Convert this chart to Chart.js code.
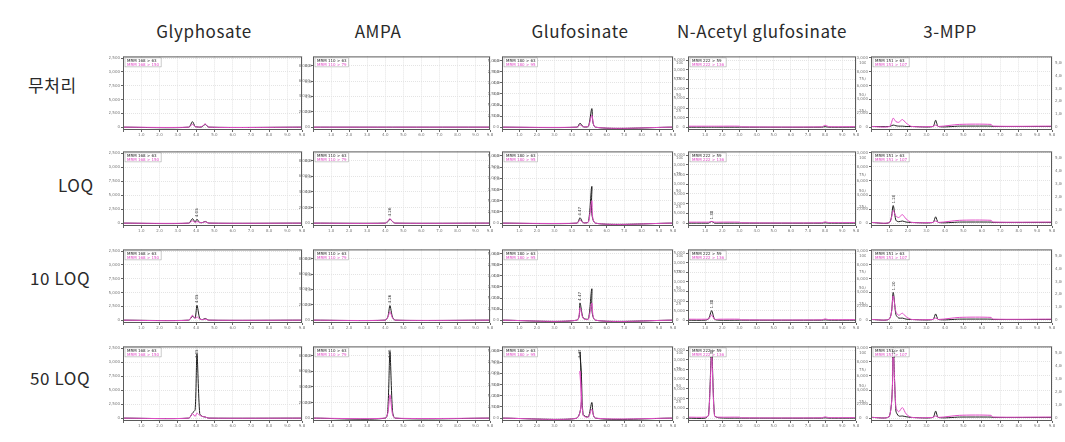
<!DOCTYPE html>
<html><head><meta charset="utf-8">
<script src="https://cdn.jsdelivr.net/npm/chart.js@4.4.1/dist/chart.umd.min.js"></script>
<style>
html,body{margin:0;padding:0;background:#fff;width:1065px;height:442px;overflow:hidden;position:relative;font-family:"Noto Sans CJK KR","Noto Sans",sans-serif;}
.t{position:absolute;font-size:17px;letter-spacing:0.6px;color:#2a2a2a;white-space:nowrap;transform:translate(-50%,-50%);}
.r{position:absolute;font-size:17px;letter-spacing:0.6px;color:#2a2a2a;white-space:nowrap;transform:translate(0,-50%);}
canvas{position:absolute;}
</style></head><body>
<script>
// ---- labels ----
const compounds = ["Glyphosate","AMPA","Glufosinate","N-Acetyl glufosinate","3-MPP"];
const levels = ["무처리","LOQ","10 LOQ","50 LOQ"];
const quantIons = ["MRM 168 > 63","MRM 110 > 63","MRM 180 > 63","MRM 222 > 59","MRM 151 > 63"];
const qualIons  = ["MRM 168 > 150","MRM 110 > 79","MRM 180 > 95","MRM 222 > 136","MRM 151 > 107"];

// ---- retention time grids (min) ----
const glyTimes  = [0, 3.6, 3.8, 3.95, 4.05, 4.2, 4.35, 4.5, 4.7, 9.8];
const ampaTimes = [0, 4.0, 4.15, 4.26, 4.4, 4.55, 9.8];
const glufTimes = [0, 4.3, 4.47, 4.65, 4.95, 5.15, 5.35, 9.8];
const nagTimes  = [0, 1.0, 1.2, 1.38, 1.55, 1.8, 3.0, 3.1, 7.8, 8.0, 8.2, 9.8];
const mppTimes  = [0, 1.0, 1.2, 1.35, 1.5, 1.7, 1.9, 2.2, 3.35, 3.5, 3.65, 4.8, 6.5, 6.6, 9.8];

// ---- intensities: black (quantifier) / magenta (qualifier) ----
const glyBlankQ = [0,0,1000,100,50,0,100,500,0,0];
const glyBlankC = [0,0,500,100,50,0,200,600,0,0];
const glyLoqQ   = [0,0,800,200,700,100,100,300,0,0];
const glyLoqC   = [0,0,400,100,300,100,100,250,0,0];
const gly10Q    = [0,0,700,400,2700,300,100,300,0,0];
const gly10C    = [0,0,900,300,600,200,100,200,0,0];
const gly50Q    = [0,0,900,1500,11500,800,300,200,0,0];
const gly50C    = [0,0,800,300,900,500,300,200,0,0];

const ampaBlankQ = [0,0,0,0,0,0,0];
const ampaBlankC = [0,0,0,0,0,0,0];
const ampaLoqQ   = [0,0,200,500,200,0,0];
const ampaLoqC   = [0,0,300,600,200,0,0];
const ampa10Q    = [0,0,500,1900,400,0,0];
const ampa10C    = [0,0,400,1100,300,0,0];
const ampa50Q    = [0,0,1500,8500,1000,0,0];
const ampa50C    = [0,0,700,3000,500,0,0];

const glufBlankQ = [0,0,900,100,200,4200,0,0];
const glufBlankC = [0,0,500,100,200,2700,0,0];
const glufLoqQ   = [0,0,1200,100,300,8200,0,0];
const glufLoqC   = [0,0,700,100,200,5000,0,0];
const gluf10Q    = [0,0,3900,500,300,7100,0,0];
const gluf10C    = [0,0,2800,400,200,3900,0,0];
const gluf50Q    = [0,0,14800,800,300,3500,0,0];
const gluf50C    = [0,0,10500,600,200,2000,0,0];

const nagBlankQ = [0,0,0,0,0,0,0,0,0,800,0,0];
const nagBlankC = [1500,1500,1500,1500,1500,1500,1500,500,500,3000,800,800];
const nagLoqQ   = [0,0,0,2500,0,0,0,0,0,500,0,0];
const nagLoqC   = [1500,1500,1500,2500,1500,1500,1500,500,500,2000,800,800];
const nag10Q    = [0,0,2000,15000,1500,0,0,0,0,500,0,0];
const nag10C    = [1500,1500,2000,8000,1500,1500,1500,500,500,2000,800,800];
const nag50Q    = [0,0,5000,106000,4000,500,0,0,0,500,0,0];
const nag50C    = [1500,1500,4000,95000,3000,1500,1500,500,500,2000,800,800];

const mppBlankQ = [100,100,300,200,150,150,100,100,100,1000,100,150,150,100,100];
const mppBlankC = [100,100,1300,800,700,1100,600,100,100,300,100,400,400,150,150];
const mppLoqQ   = [100,100,2500,400,200,300,150,100,100,900,100,150,150,100,100];
const mppLoqC   = [100,100,1800,1000,800,1200,600,100,100,300,100,400,400,150,150];
const mpp10Q    = [100,200,4000,800,300,300,150,100,100,900,100,150,150,100,100];
const mpp10C    = [100,200,3500,1200,700,1000,500,100,100,300,100,400,400,150,150];
const mpp50Q    = [100,300,10000,1000,300,300,200,100,100,1000,100,150,150,100,100];
const mpp50C    = [100,300,9300,1500,900,1500,600,100,100,300,100,400,400,150,150];

// ---- axis settings per compound ----
const yMaxes  = [12800, 9200, 16000, 110800, 10200];
const ySteps  = [2500, 2000, 2500, 15000, 2000];
const y2Maxes = [9300, 6450, 110, 110800, 5500];
const y2Steps = [2000, 1000, 25, 25000, 1000];
// labelled peak (retention time) per compound, shown for spiked levels
const peakTimes = [4.05, 4.26, 4.47, 1.38, 1.2];

// ---- layout ----
const colLeft  = [123, 313, 502, 688, 871];
const colRight = [302, 490, 673, 856, 1052];
const rowTop   = [56, 151, 249, 346];
const rowBot   = [130, 226, 323, 421];
const titleX   = [204, 378, 580, 762, 950];
const rowLabelX= [28, 58, 30, 30];
const rowLabelY= [84, 184, 277, 377];

const timesByCol = [glyTimes, ampaTimes, glufTimes, nagTimes, mppTimes];
const dataByCol = [
  [[glyBlankQ,glyBlankC],[glyLoqQ,glyLoqC],[gly10Q,gly10C],[gly50Q,gly50C]],
  [[ampaBlankQ,ampaBlankC],[ampaLoqQ,ampaLoqC],[ampa10Q,ampa10C],[ampa50Q,ampa50C]],
  [[glufBlankQ,glufBlankC],[glufLoqQ,glufLoqC],[gluf10Q,gluf10C],[gluf50Q,gluf50C]],
  [[nagBlankQ,nagBlankC],[nagLoqQ,nagLoqC],[nag10Q,nag10C],[nag50Q,nag50C]],
  [[mppBlankQ,mppBlankC],[mppLoqQ,mppLoqC],[mpp10Q,mpp10C],[mpp50Q,mpp50C]]
];

compounds.forEach((c,i)=>{
  const d=document.createElement('div'); d.className='t'; d.textContent=c;
  d.style.left=titleX[i]+'px'; d.style.top='30px'; document.body.appendChild(d);
});
levels.forEach((l,i)=>{
  const d=document.createElement('div'); d.className='r'; d.textContent=l;
  d.style.left=rowLabelX[i]+'px'; d.style.top=rowLabelY[i]+'px'; document.body.appendChild(d);
});

const BLACK='#1e1e1e', MAG='#e04cc6';
const tickFont={size:4,family:'"DejaVu Sans"'};
const LEFTW=14, RIGHTW=10, BOTH=11, TOPP=3;

const decor = {
  id:'decor',
  afterDatasetsDraw(chart, args, opts){
    const {ctx, chartArea:a} = chart;
    ctx.save();
    ctx.font='4px "DejaVu Sans"';
    const ds=chart.data.datasets;
    const w=Math.max(...ds.map(d=>ctx.measureText(d.label).width))+4;
    ctx.fillStyle='#fff'; ctx.fillRect(a.left+2,a.top+1.5,w,9);
    ctx.strokeStyle='#999'; ctx.lineWidth=0.5; ctx.strokeRect(a.left+2,a.top+1.5,w,9);
    ds.forEach((d,i)=>{ctx.fillStyle=d.borderColor; ctx.fillText(d.label,a.left+4,a.top+5.5+i*4.2);});
    if(opts.peak){
      const xs=chart.scales.x, ys=chart.scales.y;
      const px=xs.getPixelForValue(opts.peak.x), py=ys.getPixelForValue(opts.peak.y);
      ctx.fillStyle='#333';
      ctx.translate(px+1.5, Math.max(py-2, a.top+12));
      ctx.rotate(-Math.PI/2);
      ctx.fillText(opts.peak.text,0,0);
      ctx.setTransform(1,0,0,1,0,0);
    }
    ctx.strokeStyle='#5a5a5a'; ctx.lineWidth=1;
    ctx.strokeRect(a.left+0.5,a.top+0.5,a.width-1,a.height-1);
    ctx.restore();
  }
};

for(let c=0;c<5;c++){
  for(let r=0;r<4;r++){
    const fw=colRight[c]-colLeft[c], fh=rowBot[r]-rowTop[r];
    const cv=document.createElement('canvas');
    const W=fw+LEFTW+RIGHTW, H=fh+TOPP+BOTH;
    cv.width=W; cv.height=H;
    cv.style.left=(colLeft[c]-LEFTW)+'px'; cv.style.top=(rowTop[r]-TOPP)+'px';
    document.body.appendChild(cv);
    const times=timesByCol[c];
    const [q,m]=dataByCol[c][r];
    const toPts=arr=>arr.map((v,i)=>({x:times[i],y:v}));
    const xMax=9.8;
    let peak=null;
    if(r>0){
      const idx=times.indexOf(peakTimes[c]);
      peak={x:peakTimes[c], y:Math.max(q[idx],m[idx]), text:peakTimes[c].toFixed(2)};
    }
    new Chart(cv,{
      type:'line',
      data:{datasets:[
        {label:quantIons[c],data:toPts(q),borderColor:BLACK,borderWidth:1,pointRadius:0,tension:0.25,order:2},
        {label:qualIons[c],data:toPts(m),borderColor:MAG,borderWidth:1,pointRadius:0,tension:0.25,order:1}
      ]},
      options:{
        responsive:false, animation:false, devicePixelRatio:1,
        layout:{padding:{left:0,right:0,top:TOPP,bottom:0}},
        plugins:{legend:{display:false},tooltip:{enabled:false},decor:{peak}},
        scales:{
          x:{type:'linear',min:0,max:xMax,
             ticks:{stepSize:1,font:tickFont,color:'#777',padding:1,maxRotation:0,
                    callback:v=>(v===0?'':Number(v).toFixed(1))},
             grid:{color:'#e4e4e4',tickLength:2,tickColor:'#666'},
             border:{display:false,dash:[1,1]},
             afterFit:s=>{s.height=BOTH;}},
          y:{position:'left',min:-0.04*yMaxes[c],max:yMaxes[c],
             afterBuildTicks:s=>{const t=[];for(let v=0;v<=yMaxes[c];v+=ySteps[c])t.push({value:v});s.ticks=t;},
             ticks:{font:tickFont,color:'#777',padding:1},
             grid:{color:'#e4e4e4',tickLength:2,tickColor:'#666'},
             border:{display:false,dash:[1,1]},
             afterFit:s=>{s.width=LEFTW;}},
          y2:{position:'right',min:-0.04*y2Maxes[c],max:y2Maxes[c],
             afterBuildTicks:s=>{const t=[];for(let v=0;v<=y2Maxes[c];v+=y2Steps[c])t.push({value:v});s.ticks=t;},
             ticks:{font:tickFont,color:'#777',padding:1},
             grid:{display:false,tickLength:2},
             border:{display:false},
             afterFit:s=>{s.width=RIGHTW;}}
        }
      },
      plugins:[decor]
    });
  }
}
</script>
</body></html>
